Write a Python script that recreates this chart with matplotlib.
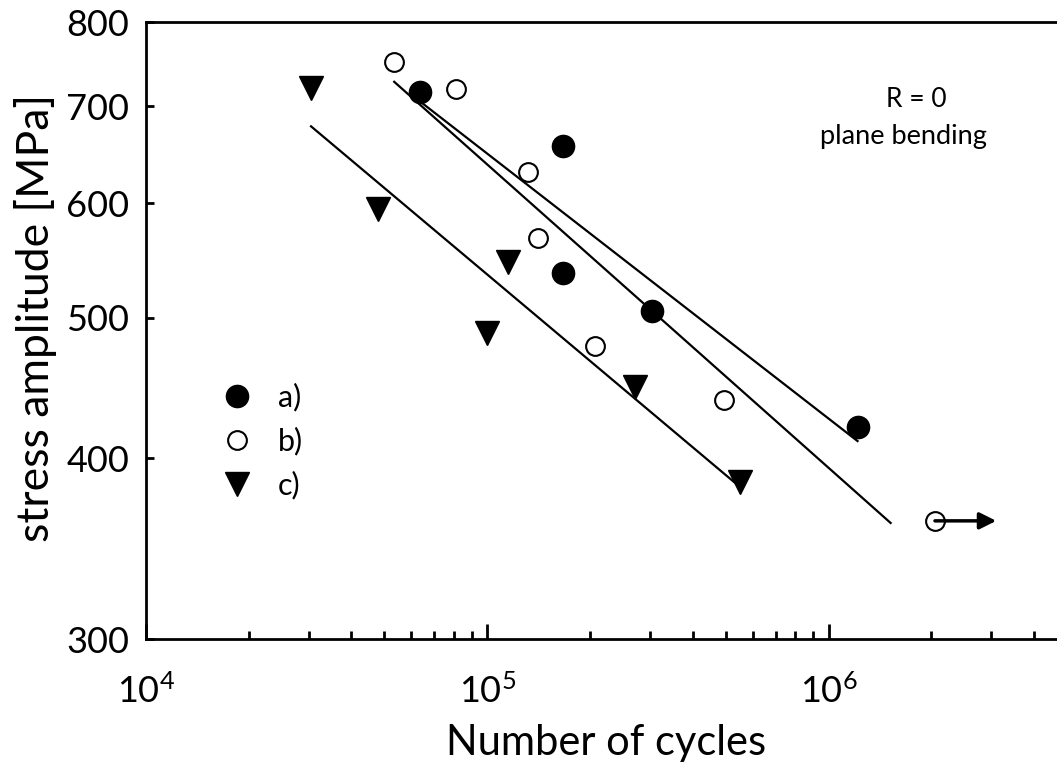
import numpy as np
import matplotlib
matplotlib.use("Agg")
import matplotlib.pyplot as plt
from matplotlib.ticker import FixedLocator, NullLocator, LogLocator, FuncFormatter

plt.rcParams['font.family'] = ['Lato', 'DejaVu Sans']
plt.rcParams['mathtext.fontset'] = 'custom'
plt.rcParams['mathtext.rm'] = 'Lato'
plt.rcParams['mathtext.it'] = 'Lato:italic'

# series a) filled circles
a_N = [63600, 167000, 167000, 304700, 1216000]
a_S = [716, 657, 537, 505, 420]
# series b) open circles (last one is a run-out)
b_N = [53400, 81100, 131900, 141100, 207400, 495500, 2050000]
b_S = [751, 719, 630, 568, 478, 439, 362]
# series c) triangles
c_N = [30470, 47900, 115300, 100000, 271600, 552000]
c_S = [720, 594, 546, 488, 448, 385]

b_fit_end = 1520000     # fitted line b stops before the run-out
runout_arrow_end = 3100000

y_ticks = [300, 400, 500, 600, 700, 800]
x_lim = (1e4, 4.67e6)
y_lim = (300, 800)

legend_labels = ['a)', 'b)', 'c)']


def fitLine(N, S, n_end=None):
    lx = np.log10(N)
    ly = np.log10(S)
    k, b = np.polyfit(lx, ly, 1)
    x0 = lx.min()
    x1 = lx.max() if n_end is None else np.log10(n_end)
    xs = np.array([x0, x1])
    return 10 ** xs, 10 ** (k * xs + b)


fig = plt.figure(figsize=(10.57, 7.63), dpi=100)
ax = fig.add_axes([0.138, 0.1625, 0.862, 0.8085])
ax.set_xscale('log')
ax.set_yscale('log')
ax.set_xlim(*x_lim)
ax.set_ylim(*y_lim)

# fitted lines
for N, S, end in [(a_N, a_S, None), (b_N, b_S, b_fit_end), (c_N, c_S, None)]:
    fx, fy = fitLine(N, S, end)
    ax.plot(fx, fy, color='black', lw=1.6, zorder=2)

ha = ax.plot(a_N, a_S, 'o', color='black', ms=16, zorder=3, clip_on=False)[0]
hb = ax.plot(b_N, b_S, 'o', mfc='white', mec='black', ms=13.5, mew=1.5, zorder=3)[0]
hc = ax.plot(c_N, c_S, 'v', color='black', ms=17, zorder=3)[0]

# run-out arrow
ax.annotate('', xy=(runout_arrow_end, b_S[-1]), xytext=(b_N[-1], b_S[-1]),
            arrowprops=dict(arrowstyle='-|>', color='black', lw=2.5,
                            mutation_scale=25, shrinkA=0, shrinkB=0), zorder=4)

ax.text(0.846, 0.874, 'R = 0', transform=ax.transAxes, ha='center', va='center', fontsize=19)
ax.text(0.831, 0.814, 'plane bending', transform=ax.transAxes, ha='center', va='center', fontsize=19.5)

ax.legend([ha, hb, hc], legend_labels, loc='upper left', bbox_to_anchor=(0.066, 0.44),
          frameon=False, fontsize=22, handlelength=1.0, handletextpad=0.85,
          labelspacing=0.5, borderpad=0)

# axes styling
for s in ['left', 'bottom', 'top']:
    ax.spines[s].set_linewidth(2.0)
ax.spines['right'].set_visible(False)

ax.yaxis.set_major_locator(FixedLocator(y_ticks))
ax.yaxis.set_minor_locator(NullLocator())
ax.yaxis.set_major_formatter(FuncFormatter(lambda v, p: '%d' % v))
ax.xaxis.set_major_locator(LogLocator(base=10))
ax.xaxis.set_minor_locator(LogLocator(base=10, subs=np.arange(2, 10)))
ax.xaxis.set_major_formatter(FuncFormatter(lambda v, p: r'$10^{%d}$' % round(np.log10(v))))

ax.tick_params(axis='both', which='major', direction='in', length=11, width=2.0,
               labelsize=26, top=False, right=False)
ax.tick_params(axis='x', which='minor', direction='in', length=6, width=2.0, top=False)
ax.tick_params(axis='x', which='major', pad=25)
ax.tick_params(axis='y', which='major', length=6, pad=12)

ax.set_xlabel('Number of cycles', fontsize=30)
ax.set_ylabel('stress amplitude [MPa]', fontsize=32)
ax.xaxis.set_label_coords(0.505, -0.138)
ax.yaxis.set_label_coords(-0.097, 0.52)

fig.savefig('out.png', dpi=100)
